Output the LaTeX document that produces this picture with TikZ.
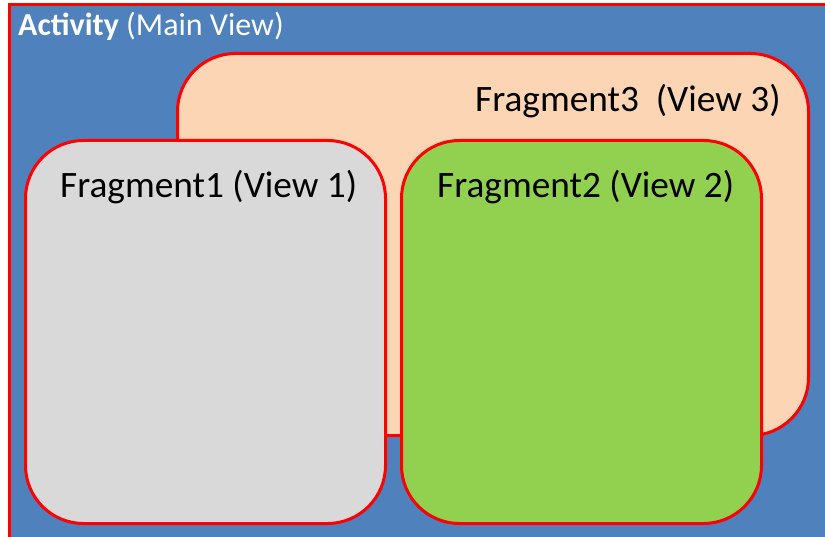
\documentclass[tikz,border=0pt]{standalone}
\usepackage{fontspec}
\setmainfont{Carlito}
\definecolor{actblue}{HTML}{4F81BD}
\definecolor{fragorange}{HTML}{FCD5B5}
\definecolor{fraggrey}{HTML}{D9D9D9}
\definecolor{fraggreen}{HTML}{92D050}
\definecolor{bordred}{HTML}{FF0000}
\begin{document}
\begin{tikzpicture}[x=1pt,y=-1pt,
  fragbox/.style={draw=bordred,line width=3pt,rounded corners=58pt,anchor=north west,inner sep=0pt,rectangle},
  fraglabel/.style={anchor=base west,inner sep=0pt,font=\fontsize{37.3}{44}\selectfont,text=black}]
\useasboundingbox (0,0) rectangle (825,537);
\clip (0,0) rectangle (825,537);
\fill[white] (0,0) rectangle (825,537);
\node[draw=bordred,fill=actblue,line width=3pt,anchor=north west,inner sep=0pt,minimum width=830pt,minimum height=545pt] (act) at (8,3) {};
\node[anchor=base west,inner sep=0pt,text=white,font=\fontsize{32}{38}\selectfont] (actlabel) at (18,36) {\textbf{Activity} (Main View)};
\node[fragbox,fill=fragorange,minimum width=631pt,minimum height=382pt] (f3) at (176,52) {};
\node[fragbox,fill=fraggrey,minimum width=360pt,minimum height=383pt] (f1) at (24,139) {};
\node[fragbox,fill=fraggreen,minimum width=360pt,minimum height=383pt] (f2) at (400,139) {};
\node[fraglabel] (f3label) at (475,112) {Fragment3\ \ (View 3)};
\node[fraglabel] (f1label) at (60,198) {Fragment1 (View 1)};
\node[fraglabel] (f2label) at (437,198) {Fragment2 (View 2)};
\end{tikzpicture}
\end{document}
